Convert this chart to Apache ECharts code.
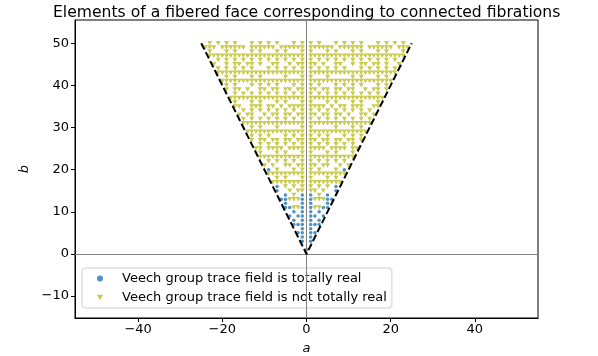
<!DOCTYPE html>
<html>
<head>
<meta charset="utf-8">
<script src="https://cdn.jsdelivr.net/npm/echarts@6/dist/echarts.min.js"></script>
<style>
    html, body { margin: 0; padding: 0; background: #fff; }
    #main-chart { width: 598px; height: 356px; }
</style>
</head>
<body>
<div id="main-chart"></div>
<script>
// rows: [b, positive a values]; each a > 0 also drawn at -a
var realRows = [
    [1, [0]], [3, [1]], [4, [1]], [5, [1, 2]], [6, [1]], [7, [1, 2, 3]],
    [8, [1, 3]], [9, [1, 2, 4]], [10, [1, 3]], [11, [1, 4, 5]], [12, [1, 5]],
    [13, [1, 5, 6]], [14, [1, 5]], [15, [7]], [16, [7]], [20, [9]]
];
var notRealRows = [
    [11, [2, 3]], [13, [2, 3, 4]], [14, [3]], [15, [1, 2, 4]], [16, [1, 3, 5]],
    [17, [1, 2, 3, 4, 5, 6, 7, 8]], [18, [1, 5, 7]], [19, [1, 2, 3, 4, 5, 6, 7, 8, 9]],
    [20, [1, 3, 7]], [21, [1, 2, 4, 5, 8, 10]], [22, [1, 3, 5, 7, 9]],
    [23, [1, 2, 3, 4, 5, 6, 7, 8, 9, 10, 11]], [24, [1, 5, 7, 11]],
    [25, [1, 2, 3, 4, 6, 7, 8, 9, 11, 12]], [26, [1, 3, 5, 7, 9, 11]],
    [27, [1, 2, 4, 5, 7, 8, 10, 11, 13]], [28, [1, 3, 5, 9, 11, 13]],
    [29, [1, 2, 3, 4, 5, 6, 7, 8, 9, 10, 11, 12, 13, 14]], [30, [1, 7, 11, 13]],
    [31, [1, 2, 3, 4, 5, 6, 7, 8, 9, 10, 11, 12, 13, 14, 15]],
    [32, [1, 3, 5, 7, 9, 11, 13, 15]], [33, [1, 2, 4, 5, 7, 8, 10, 13, 14, 16]],
    [34, [1, 3, 5, 7, 9, 11, 13, 15]], [35, [1, 2, 3, 4, 6, 8, 9, 11, 12, 13, 16, 17]],
    [36, [1, 5, 7, 11, 13, 17]],
    [37, [1, 2, 3, 4, 5, 6, 7, 8, 9, 10, 11, 12, 13, 14, 15, 16, 17, 18]],
    [38, [1, 3, 5, 7, 9, 11, 13, 15, 17]], [39, [1, 2, 4, 5, 7, 8, 10, 11, 14, 16, 17, 19]],
    [40, [1, 3, 7, 9, 11, 13, 17, 19]],
    [41, [1, 2, 3, 4, 5, 6, 7, 8, 9, 10, 11, 12, 13, 14, 15, 16, 17, 18, 19, 20]],
    [42, [1, 5, 11, 13, 17, 19]],
    [43, [1, 2, 3, 4, 5, 6, 7, 8, 9, 10, 11, 12, 13, 14, 15, 16, 17, 18, 19, 20, 21]],
    [44, [1, 3, 5, 7, 9, 13, 15, 17, 19, 21]],
    [45, [1, 2, 4, 7, 8, 11, 13, 14, 16, 17, 19, 22]],
    [46, [1, 3, 5, 7, 9, 11, 13, 15, 17, 19, 21]],
    [47, [1, 2, 3, 4, 5, 6, 7, 8, 9, 10, 11, 12, 13, 14, 15, 16, 17, 18, 19, 20, 21, 22, 23]],
    [48, [1, 5, 7, 11, 13, 17, 19, 23]],
    [49, [1, 2, 3, 4, 5, 6, 8, 9, 10, 11, 12, 13, 15, 16, 17, 18, 19, 20, 22, 23, 24]],
    [50, [1, 3, 7, 9, 11, 13, 17, 19, 21, 23]]
];
// face boundary (dashed)
var boundaryPts = [[-25, 50], [0, 0], [25, 50]];
var xTicks = [-40, -20, 0, 20, 40];
var yTicks = [-10, 0, 10, 20, 30, 40, 50];

function expandRows(rows) {
    var pts = [];
    rows.forEach(function (r) {
        r[1].forEach(function (a) {
            if (a === 0) {
                pts.push([0, r[0]]);
            } else {
                pts.push([-a, r[0]]);
                pts.push([a, r[0]]);
            }
        });
    });
    return pts;
}

function minusSign(v) {
    return String(v).replace('-', '\u2212');
}

var chart = echarts.init(document.getElementById('main-chart'));
var font = 'DejaVu Sans';
var downTriangle = 'path://M0,0 L10,0 L5,9 Z';
var option = {
    animation: false,
    title: {
        text: 'Elements of a fibered face corresponding to connected fibrations',
        left: 48,
        top: 0,
        textStyle: { fontFamily: font, fontSize: 15.6, fontWeight: 'normal', color: '#000' }
    },
    grid: {
        left: 75, right: 60, top: 20, bottom: 38,
        outerBoundsMode: 'none',
        show: true, borderColor: '#000', borderWidth: 1, backgroundColor: '#fff'
    },
    legend: {
        left: 82,
        top: 268,
        orient: 'vertical',
        itemWidth: 6,
        itemHeight: 6,
        itemGap: 6,
        padding: [4, 5, 4, 15],
        borderColor: '#d0d0d0',
        borderWidth: 1,
        borderRadius: 3,
        backgroundColor: 'rgba(255,255,255,0.8)',
        textStyle: { fontFamily: font, fontSize: 13, color: '#000', padding: [0, 0, 0, 14] },
        data: ['Veech group trace field is totally real', 'Veech group trace field is not totally real']
    },
    xAxis: {
        type: 'value',
        min: -55,
        max: 55,
        name: 'a',
        nameLocation: 'middle',
        nameGap: 24,
        nameTextStyle: { fontFamily: font, fontSize: 13, fontStyle: 'italic', color: '#000' },
        axisLine: { show: true, onZero: false, lineStyle: { color: '#000', width: 1 } },
        axisTick: { show: true, length: 4, customValues: xTicks, lineStyle: { color: '#000' } },
        axisLabel: {
            customValues: xTicks, fontFamily: font, fontSize: 13, color: '#000', margin: 5,
            formatter: minusSign
        },
        splitLine: { show: false }
    },
    yAxis: {
        type: 'value',
        min: -15.2,
        max: 55.5,
        name: 'b',
        nameLocation: 'middle',
        nameGap: 41,
        nameRotate: 90,
        nameTextStyle: { fontFamily: font, fontSize: 13, fontStyle: 'italic', color: '#000' },
        axisLine: { show: true, onZero: false, lineStyle: { color: '#000', width: 1 } },
        axisTick: { show: true, length: 4, customValues: yTicks, lineStyle: { color: '#000' } },
        axisLabel: {
            customValues: yTicks, fontFamily: font, fontSize: 13, color: '#000', margin: 6,
            formatter: minusSign
        },
        splitLine: { show: false }
    },
    series: [{
        // axes through the origin
        type: 'line',
        data: [],
        z: 1,
        silent: true,
        markLine: {
            silent: true,
            symbol: 'none',
            label: { show: false },
            lineStyle: { color: '#808080', width: 1, type: 'solid' },
            data: [{ xAxis: 0 }, { yAxis: 0 }]
        }
    }, {
        name: 'Veech group trace field is totally real',
        type: 'scatter',
        data: expandRows(realRows),
        symbol: 'circle',
        symbolSize: 3.5,
        itemStyle: { color: '#1f77b4' },
        z: 3
    }, {
        name: 'Veech group trace field is not totally real',
        type: 'scatter',
        data: expandRows(notRealRows),
        symbol: downTriangle,
        symbolSize: [5, 4.5],
        itemStyle: { color: '#bcbd22' },
        z: 3
    }, {
        type: 'line',
        data: boundaryPts,
        symbol: 'none',
        silent: true,
        lineStyle: { color: '#000', width: 2, type: [7, 3] },
        z: 5
    }]
};
chart.setOption(option);
</script>
</body>
</html>
